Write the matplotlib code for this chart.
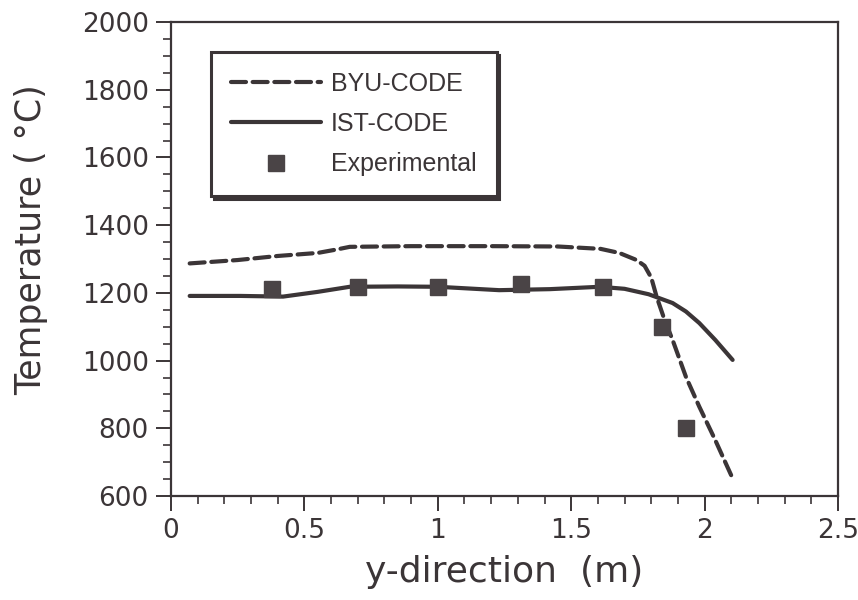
import numpy as np
import matplotlib
matplotlib.use("Agg")
import matplotlib.pyplot as plt
from matplotlib.ticker import MultipleLocator

# BYU-CODE prediction (dashed)
byu_y = [0.07, 0.25, 0.40, 0.55, 0.62, 0.67, 0.90, 1.20, 1.45, 1.61, 1.68, 1.745,
         1.775, 1.80, 1.82, 1.85, 1.88, 1.93, 1.98, 2.04, 2.105]
byu_t = [1287, 1297, 1309, 1318, 1328, 1336, 1338, 1338, 1337, 1330, 1318, 1297,
         1280, 1245, 1189, 1120, 1061, 952, 864, 765, 652]

# IST-CODE prediction (solid)
ist_y = [0.07, 0.26, 0.42, 0.55, 0.67, 0.85, 1.0, 1.23, 1.42, 1.607, 1.70, 1.79,
         1.88, 1.93, 1.98, 2.04, 2.105]
ist_t = [1191, 1191, 1189, 1203, 1218, 1219, 1218, 1208, 1211, 1218, 1212, 1196,
         1170, 1145, 1111, 1061, 1002]

# measured points
exp_y = [0.38, 0.70, 1.00, 1.31, 1.62, 1.84, 1.93]
exp_t = [1212, 1218, 1218, 1225, 1218, 1100, 800]

ink = "#3b3537"

plt.rcParams["font.family"] = ["DejaVu Sans"]

fig = plt.figure(figsize=(8.58, 6.0), dpi=100)
ax = fig.add_axes([0.1993, 0.1733, 0.7774, 0.79])

ax.plot(byu_y, byu_t, color=ink, lw=3.0, linestyle=(0, (3.6, 1.6)),
        dash_capstyle="round", label="BYU-CODE")
ax.plot(ist_y, ist_t, color=ink, lw=3.0, solid_capstyle="round",
        solid_joinstyle="round", label="IST-CODE")
ax.plot(exp_y, exp_t, linestyle="none", marker="s", markersize=11,
        color="#4a4446", label="Experimental")

ax.set_xlim(0, 2.5)
ax.set_ylim(600, 2000)
ax.xaxis.set_major_locator(MultipleLocator(0.5))
ax.xaxis.set_minor_locator(MultipleLocator(0.1))
ax.yaxis.set_major_locator(MultipleLocator(200))
ax.yaxis.set_minor_locator(MultipleLocator(50))
ax.xaxis.set_major_formatter(plt.FuncFormatter(lambda v, p: f"{v:g}"))

ax.tick_params(which="major", direction="out", length=11, width=1.4,
               colors=ink, labelsize=19, pad=5)
ax.tick_params(which="minor", direction="out", length=6, width=1.2, colors=ink)
for s in ax.spines.values():
    s.set_color(ink)
    s.set_linewidth(1.6)

ax.set_xlabel("y-direction  (m)", fontsize=26, color=ink, labelpad=8)
ax.set_ylabel("Temperature ( °C)", fontsize=25, color=ink, labelpad=24)
ax.yaxis.label.set_y(0.54)

leg = ax.legend(loc="upper left", bbox_to_anchor=(0.06, 0.937), frameon=True,
                fancybox=False, shadow={"color": ink, "alpha": 1.0},
                handlelength=3.6, handletextpad=0.4,
                borderpad=0.8, labelspacing=0.65, borderaxespad=0,
                prop={"family": "Liberation Sans", "size": 18})
leg.get_frame().set_edgecolor(ink)
leg.get_frame().set_linewidth(2.2)
for t in leg.get_texts():
    t.set_color(ink)

fig.savefig("out.png", dpi=100)
